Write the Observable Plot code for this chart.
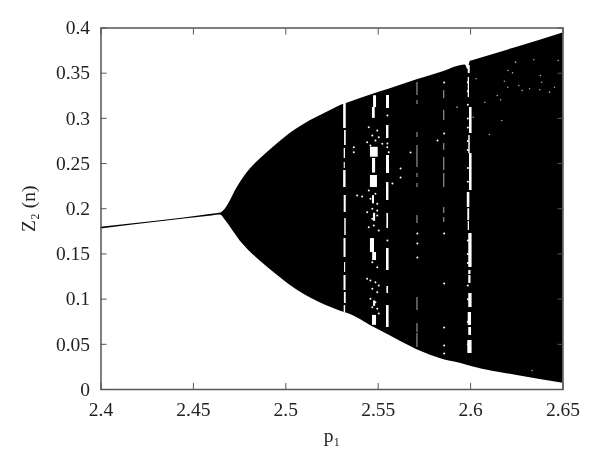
<!DOCTYPE html>
<html>
<head>
<meta charset="utf-8">
<script src="https://cdn.jsdelivr.net/npm/d3@7"></script>
<script src="https://cdn.jsdelivr.net/npm/@observablehq/plot@0.6"></script>
<style>
html,body{margin:0;padding:0;background:#fff}
svg{display:block;filter:blur(0.35px)}
</style>
</head>
<body>
<div id="chart"></div>
<script>
const xTicks = [2.4, 2.45, 2.5, 2.55, 2.6, 2.65];
const yTicks = [0, 0.05, 0.1, 0.15, 0.2, 0.25, 0.3, 0.35, 0.4];

const envP = [2.4,2.46,2.4647,2.4674,2.4701,2.4728,2.4755,2.4782,2.4809,2.4863,2.4917,2.4971,2.5025,2.508,2.5134,2.5188,2.5242,2.5296,2.5332,2.5476,2.5549,2.571,2.5855,2.5972,2.5985,2.5999,2.601,2.6252,2.65];
const envUpper = [.1794,.1938,.1952,.2,.2091,.2202,.2294,.2374,.2442,.2553,.2652,.2747,.2836,.291,.2976,.3032,.3087,.3142,.3168,.327,.3316,.3427,.352,.359,.354,.3632,.3639,.3787,.3946];
const envLower = [.1776,.192,.193,.187,.1796,.1715,.1638,.1577,.1519,.142,.1325,.1236,.1151,.1077,.1012,.0958,.091,.0866,.0845,.069,.061,.044,.033,.0275,.0265,.0258,.0252,.0155,.007];

// white windows: [p from, p to, z from, z to]
const windowA = [[2.5313,2.5327,.2888,.3165],[2.5318,2.5327,.27,.2866],[2.5316,2.5323,.2556,.2667],[2.5316,2.5322,.2445,.2512],[2.5313,2.5326,.2235,.2423],[2.5316,2.5327,.1958,.2147],[2.5319,2.5327,.1704,.1892],[2.5315,2.5326,.1461,.1671],[2.5318,2.5324,.1295,.1405],[2.5315,2.5326,.1095,.1261],[2.5317,2.5327,.0952,.1073],[2.5316,2.5324,.0852,.0929]];
const windowB = [[2.5475,2.5491,.312,.325],[2.5469,2.5484,.3,.312],[2.5458,2.55,.257,.268],[2.5469,2.5486,.2395,.2556],[2.5458,2.5496,.2235,.2368],[2.5469,2.548,.2055,.2145],[2.5475,2.5486,.186,.195],[2.5458,2.548,.1516,.167],[2.547,2.5491,.1427,.1516],[2.5469,2.5491,.071,.082],[2.5475,2.5486,.092,.098]];
const windowC = [[2.5545,2.5561,.3109,.3253],[2.5545,2.5558,.2777,.2921],[2.5545,2.5561,.239,.2589],[2.5545,2.5558,.2091,.229],[2.5547,2.5556,.1781,.1947],[2.5545,2.5559,.1317,.156],[2.5547,2.5556,.1062,.114],[2.5545,2.5559,.0686,.0929]];
const windowF = [[2.5987,2.5998,.3497,.3585],[2.5987,2.5994,.3231,.3452],[2.5994,2.6008,.2833,.312],[2.599,2.5998,.2611,.281],[2.5994,2.6008,.2202,.2611],[2.5982,2.5996,.2014,.218],[2.5985,2.5995,.187,.2],[2.5987,2.5994,.176,.186],[2.599,2.6008,.135,.1726],[2.599,2.6002,.1272,.1317],[2.599,2.6002,.1173,.1261],[2.599,2.6008,.0907,.1062],[2.5987,2.6005,.0708,.0852],[2.599,2.6005,.0598,.0686],[2.5985,2.6008,.0398,.0542]];
// faint dotted windows
const windowD = [[2.571,2.5715,.3253,.3397],[2.571,2.5715,.3153,.3198],[2.571,2.5715,.2788,.2844],[2.571,2.5715,.2456,.27],[2.571,2.5715,.2346,.239],[2.571,2.5715,.2235,.228],[2.571,2.5715,.1837,.1925],[2.571,2.5715,.0874,.1018],[2.571,2.5715,.0631,.073],[2.571,2.5715,.0465,.062]];
const windowE = [[2.5855,2.586,.322,.3308],[2.5855,2.586,.2976,.3087],[2.5855,2.586,.2645,.2722],[2.5855,2.586,.2423,.2567],[2.5855,2.586,.2235,.239],[2.5855,2.586,.1947,.2014],[2.5855,2.586,.1848,.1903]];

// isolated white specks: [p, z]
const specksB = [[2.5449,.2902],[2.5495,.2866],[2.5468,.281],[2.5503,.2792],[2.544,.2737],[2.5485,.2755],[2.5458,.27],[2.5522,.2719],[2.5549,.2681],[2.5557,.2626],[2.5449,.2202],[2.5485,.2165],[2.5458,.211],[2.5495,.2055],[2.5468,.2],[2.544,.1962],[2.5495,.1981],[2.5476,.1925],[2.5386,.2147],[2.5413,.2136],[2.5368,.2681],[2.5368,.2626],[2.5468,.1889],[2.5495,.1925],[2.5476,.1815],[2.5449,.1796],[2.5503,.1759],[2.5468,.1409],[2.5495,.1353],[2.544,.1225],[2.5458,.1206],[2.5485,.1187],[2.5503,.1151],[2.5468,.1114],[2.5495,.1077],[2.5458,.1004],[2.5485,.0966],[2.5468,.0911],[2.5495,.0893],[2.5503,.0841]];
const specksMid = [[2.555,.3032],[2.555,.2722],[2.555,.1649],[2.5712,.1726],[2.5712,.1615],[2.5712,.146],[2.5857,.3397],[2.5857,.2833],[2.5857,.1726],[2.5857,.1173],[2.5857,.0686],[2.5857,.0487],[2.5857,.0398],[2.5821,.2755],[2.5675,.2622],[2.5621,.2445],[2.5621,.2346],[2.5577,.2279]];
const specksF = [[2.5985,.34],[2.5985,.33],[2.5985,.315],[2.5985,.3],[2.5985,.29],[2.5985,.275],[2.5985,.265],[2.5985,.245],[2.5985,.23],[2.5985,.165],[2.5985,.15],[2.5985,.14],[2.5985,.115],[2.5985,.1],[2.5985,.075],[2.5985,.05]];
const specksRight = [[2.6243,.3622],[2.6342,.3648],[2.6474,.364],[2.6203,.353],[2.6227,.3504],[2.6183,.3411],[2.6201,.3345],[2.6378,.3474],[2.6384,.34],[2.6261,.3364],[2.6279,.3308],[2.6319,.3327],[2.6374,.3316],[2.6427,.329],[2.6454,.3345],[2.6077,.3179],[2.6144,.3253],[2.6162,.3206],[2.6169,.2976],[2.6102,.2822],[2.603,.3438],[2.6014,.3013],[2.5927,.3124],[2.6333,.021]];

const envelope = envP.map((p, i) => ({p, upper: envUpper[i], lower: envLower[i]}));
const windows = [...windowA, ...windowB, ...windowC, ...windowF];
const faintWindows = [...windowD, ...windowE];
const specks = [...specksB, ...specksMid, ...specksF];
const axisColor = "#555";
const font = "'Liberation Serif', serif";
const rectOpts = {x1: d => d[0], x2: d => d[1], y1: d => d[2], y2: d => d[3]};

const chart = Plot.plot({
  width: 600, height: 466,
  marginLeft: 100.5, marginRight: 37.5, marginTop: 27.5, marginBottom: 77,
  style: {fontFamily: font, fontSize: "19.5px", color: "#222", background: "#fff"},
  x: {domain: [2.4, 2.65]},
  y: {domain: [0, 0.4]},
  marks: [
    Plot.areaY(envelope, {x: "p", y1: "lower", y2: "upper", fill: "#000", curve: "monotone-x"}),
    Plot.rect(windows, {...rectOpts, fill: "#fff"}),
    Plot.rect(faintWindows, {...rectOpts, fill: "#bbb"}),
    Plot.dot(specks, {x: d => d[0], y: d => d[1], r: 1, fill: "#fff"}),
    Plot.dot(specksRight, {x: d => d[0], y: d => d[1], r: 0.8, fill: "#aaa"}),
    Plot.frame({stroke: axisColor, strokeWidth: 1.5}),
    Plot.axisX({ticks: xTicks, tickFormat: String, tickSize: -6, tickPadding: 19, stroke: axisColor, color: "#222",
      label: "p₁", labelAnchor: "center", labelArrow: "none", labelOffset: 52}),
    Plot.axisX({anchor: "top", ticks: xTicks, tickFormat: () => "", tickSize: -6, stroke: axisColor, label: null}),
    Plot.axisY({ticks: yTicks, tickFormat: String, tickSize: -6, tickPadding: 17, stroke: axisColor, color: "#222",
      label: "Z₂ (n)", labelAnchor: "center", labelArrow: "none", labelOffset: 80}),
    Plot.axisY({anchor: "right", ticks: yTicks, tickFormat: () => "", tickSize: -6, stroke: axisColor, label: null})
  ]
});
document.getElementById("chart").appendChild(chart);
</script>
</body>
</html>
